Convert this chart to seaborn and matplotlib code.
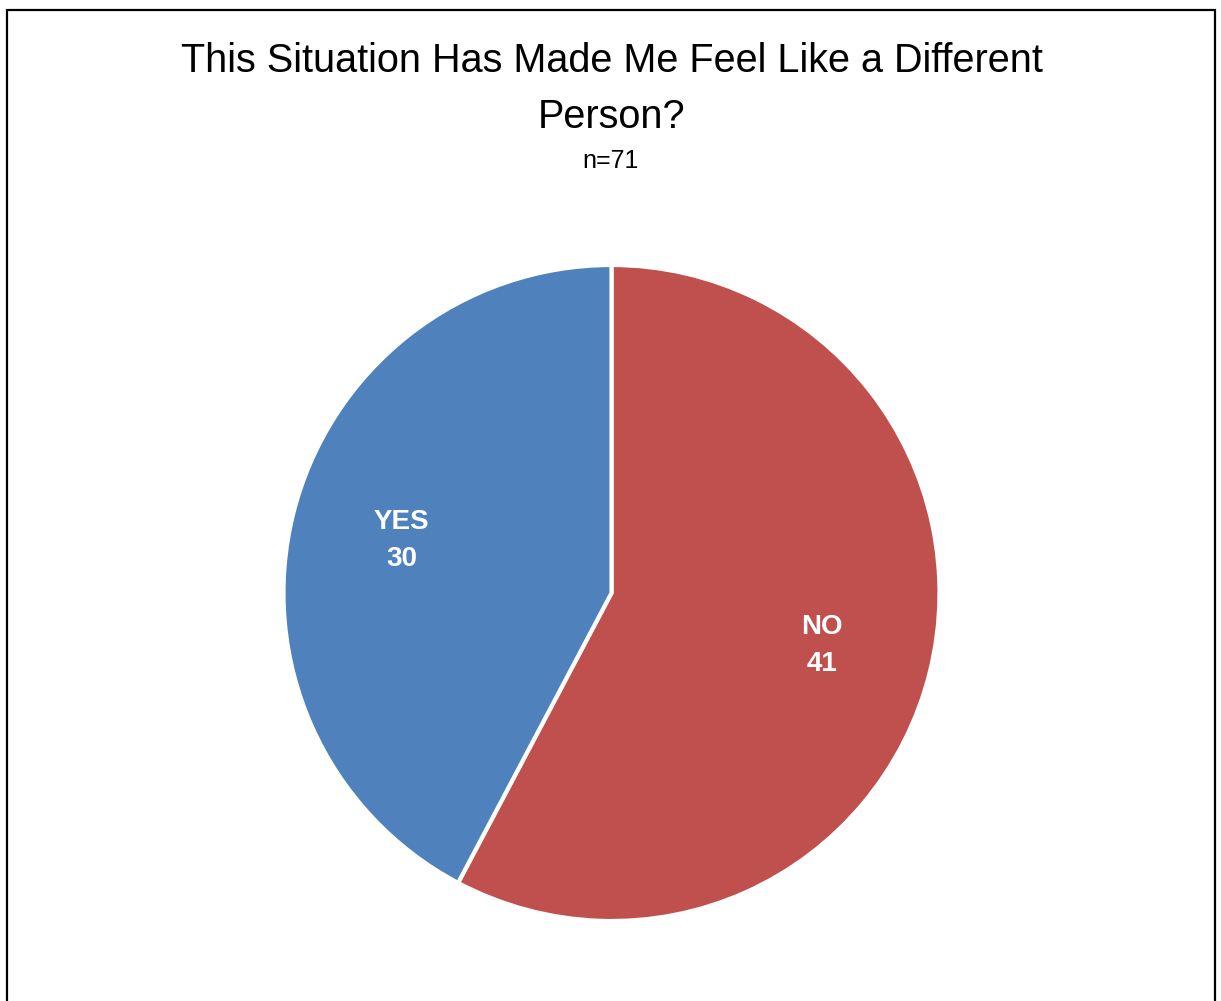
import matplotlib
matplotlib.use('Agg')
import matplotlib.pyplot as plt
import seaborn as sns
from matplotlib.patches import Rectangle

# dati del grafico
answers = ['NO', 'YES']
counts = [41, 30]
colors = ['#C0504D', '#4F81BD']
title_lines = ['This Situation Has Made Me Feel Like a Different', 'Person?']
subtitle = 'n=71'

sns.set_theme(style='white')
plt.rcParams['font.family'] = ['Liberation Sans', 'DejaVu Sans']

W, H = 1221, 1001
fig = plt.figure(figsize=(W / 100, H / 100), dpi=100)
fig.patch.set_facecolor('white')

# cornice nera attorno al grafico
fig.patches.append(Rectangle((7 / W, -0.05), (1215 - 7) / W, 1.05 - 10 / H,
                             transform=fig.transFigure, fill=False,
                             edgecolor='black', linewidth=1.6))

# titolo e sottotitolo
fig.text(612 / W, 1 - 61 / H, title_lines[0], ha='center', va='center',
         fontsize=28.5, color='black')
fig.text(612 / W, 1 - 117 / H, title_lines[1], ha='center', va='center',
         fontsize=28.5, color='black')
fig.text(611 / W, 1 - 161 / H, subtitle, ha='center', va='center',
         fontsize=18, color='black')

# torta
cx, cy, r = 611.5, 593, 328
ax = fig.add_axes([(cx - r) / W, (H - cy - r) / H, 2 * r / W, 2 * r / H])
labels = [f'{a}\n{c}' for a, c in zip(answers, counts)]
wedges, texts = ax.pie(counts, colors=colors, startangle=90, counterclock=False,
                       labels=labels, labeldistance=0.66,
                       wedgeprops=dict(edgecolor='white', linewidth=3),
                       textprops=dict(color='white', fontsize=20, fontweight='bold',
                                      ha='center', va='center', linespacing=1.55))
ax.set_xlim(-1, 1)
ax.set_ylim(-1, 1)
ax.set_aspect('equal')
ax.axis('off')

fig.savefig('out.png', dpi=100)
